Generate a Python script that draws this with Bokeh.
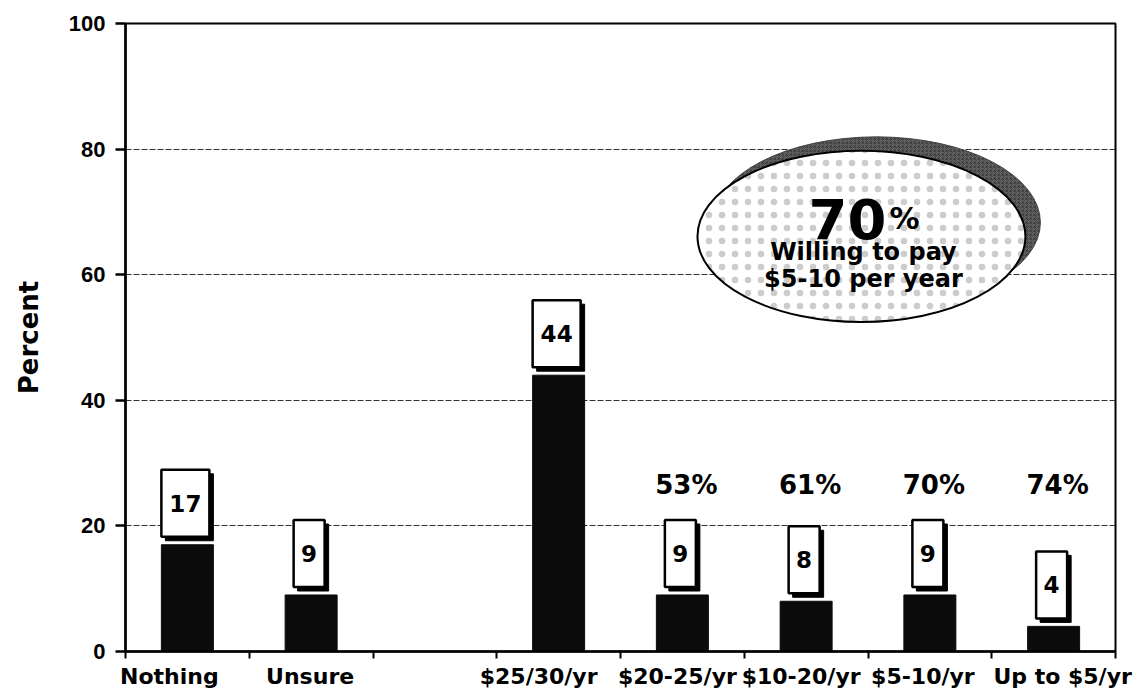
from bokeh.plotting import figure
from bokeh.models import Range1d, FixedTicker
from bokeh.core.properties import value
from bokeh.embed import file_html
from bokeh.resources import INLINE

# ---------------- data ----------------
slots = ["Nothing", "Unsure", "", "$25/30/yr", "$20-25/yr", "$10-20/yr", "$5-10/yr", "Up to $5/yr"]
values = [17, 9, None, 44, 9, 8, 9, 4]
cum_slots = ["$20-25/yr", "$10-20/yr", "$5-10/yr", "Up to $5/yr"]
cum_values = [53, 61, 70, 74]
callout_value = 70
callout_lines = ["Willing to pay", "$5-10 per year"]
y_ticks = [0, 20, 40, 60, 80, 100]

# ---------------- layout ----------------
W, H = 1140, 691
ML, MR, MT, MB = 125, 25, 23, 35
FW, FH = W - ML - MR, H - MT - MB
NX = len(slots)
px_x = NX / FW          # data units per screen px (x)
px_y = 100.0 / FH       # data units per screen px (y)
# horizontal nudges (px) of the category labels, as typeset in the original
label_nudge = [-18, -1, 0, -20, -5, -5, -7, 9]

BOLD = value("DejaVu Sans")

p = figure(width=W, height=H, output_backend="svg", toolbar_location=None,
           x_range=Range1d(0, NX), y_range=Range1d(0, 100),
           min_border_left=ML, min_border_right=MR, min_border_top=MT, min_border_bottom=MB)
p.background_fill_color = "white"
p.border_fill_color = "white"
p.outline_line_color = "black"
p.outline_line_width = 2

# grid
p.xgrid.visible = False
p.ygrid.ticker = FixedTicker(ticks=y_ticks)
p.ygrid.grid_line_color = "#333333"
p.ygrid.grid_line_dash = "6 2"
p.ygrid.grid_line_width = 1.2

# ---------------- bars ----------------
idx = [i for i, v in enumerate(values) if v is not None]
bx = [i + 0.5 for i in idx]
bv = [values[i] for i in idx]
p.vbar(x=bx, top=bv, width=0.42, color="#0b0b0b")

# value boxes with drop shadow
labels = [str(v) for v in bv]
bw = [14 + 17 * len(s) for s in labels]
BH = 67
box_x = [x - 2 * px_x for x in bx]
box_y = [v + 6.6 for v in bv]
p.rect(x=[x + 4 * px_x for x in box_x], y=[y - 4 * px_y for y in box_y],
       width=bw, height=BH, width_units="screen", height_units="screen",
       fill_color="black", line_color="black")
p.rect(x=box_x, y=box_y, width=bw, height=BH, width_units="screen", height_units="screen",
       fill_color="white", line_color="black", line_width=2.5)
p.text(x=box_x, y=box_y, text=labels, text_align="center", text_baseline="middle",
       text_font=BOLD, text_font_style="bold", text_font_size="23px", text_color="black")

# cumulative percentages
cx = [slots.index(s) + 0.5 + 4 * px_x for s in cum_slots]
p.text(x=cx, y=[26.5] * len(cx), text=[f"{v}%" for v in cum_values],
       text_align="center", text_baseline="middle",
       text_font=BOLD, text_font_style="bold", text_font_size="26px", text_color="black")

# ---------------- callout ellipse ----------------
ell_x, ell_y, ell_w, ell_h = 5.947, 66.1, 2.65, 27.3
p.ellipse(x=[ell_x + 15 * px_x], y=[ell_y + 14 * px_y], width=[ell_w], height=[ell_h],
          fill_color="#6a6a6a", line_color="#444444", line_width=1,
          hatch_pattern="criss_cross", hatch_color="#2a2a2a", hatch_scale=4, hatch_alpha=0.5)
p.ellipse(x=[ell_x], y=[ell_y], width=[ell_w], height=[ell_h],
          fill_color="white", line_color="black", line_width=2,
          hatch_pattern="dot", hatch_color="#555555", hatch_scale=13, hatch_weight=1, hatch_alpha=0.3)
p.text(x=[ell_x + 25 * px_x], y=[ell_y + 18 * px_y], text=[str(callout_value)],
       text_align="right", text_baseline="alphabetic",
       text_font=BOLD, text_font_style="bold", text_font_size="56px", text_color="black")
p.text(x=[ell_x + 28 * px_x], y=[ell_y + 18 * px_y], text=["%"],
       text_align="left", text_baseline="alphabetic",
       text_font=BOLD, text_font_style="bold", text_font_size="30px", text_color="black")
p.text(x=[ell_x + 2 * px_x] * 2, y=[ell_y - 16 * px_y, ell_y - 43 * px_y], text=callout_lines,
       text_align="center", text_baseline="alphabetic",
       text_font=BOLD, text_font_style="bold", text_font_size="24px", text_color="black")

# ---------------- axes ----------------
lab_x = [i + 0.5 + label_nudge[i] * px_x for i in idx]
xa = p.xaxis[0]
xa.ticker = FixedTicker(ticks=lab_x, minor_ticks=list(range(NX + 1)))
xa.major_label_overrides = {lx: slots[i] for lx, i in zip(lab_x, idx)}
xa.major_tick_out = 0
xa.major_tick_in = 0
xa.minor_tick_out = 7
xa.minor_tick_in = 0
xa.minor_tick_line_width = 2
xa.minor_tick_line_color = "black"
xa.axis_line_width = 2.5
xa.axis_line_color = "black"
xa.major_label_standoff = 5
xa.major_label_text_font = "DejaVu Sans"
xa.major_label_text_font_style = "bold"
xa.major_label_text_font_size = "22px"
xa.major_label_text_color = "black"

ya = p.yaxis[0]
ya.ticker = FixedTicker(ticks=y_ticks)
ya.major_tick_out = 10
ya.major_tick_in = 0
ya.minor_tick_out = 0
ya.minor_tick_in = 0
ya.major_tick_line_width = 2.5
ya.major_tick_line_color = "black"
ya.axis_line_width = 2.5
ya.axis_line_color = "black"
ya.major_label_standoff = 10
ya.major_label_text_font = "Liberation Sans"
ya.major_label_text_font_style = "bold"
ya.major_label_text_font_size = "22px"
ya.major_label_text_color = "black"
ya.axis_label = "Percent"
ya.axis_label_text_font = "DejaVu Sans"
ya.axis_label_text_font_style = "bold"
ya.axis_label_text_font_size = "26px"
ya.axis_label_text_color = "black"
ya.axis_label_standoff = 22

open("out.html", "w").write(file_html(p, INLINE))
